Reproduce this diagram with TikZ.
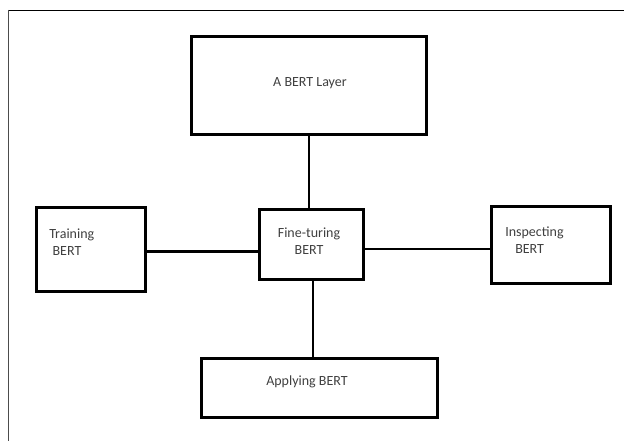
\documentclass[tikz,border=0pt]{standalone}
\usepackage{fontspec}
\setmainfont{Carlito}
\usepackage{tikz}
\usetikzlibrary{positioning}

\tikzset{
	blk/.style={draw=black, line width=2pt, inner sep=0pt},
	txt/.style={text=black!75, font=\fontsize{10.5}{12.8}\selectfont, inner sep=0pt}
}

\begin{document}
\begin{tikzpicture}[x=0.75pt, y=-0.75pt]
			\useasboundingbox (0,0) rectangle (624,441);
			\draw [line width=0.6pt] (8,10) -- (624,10);
			\draw [line width=0.5pt, color=black!70] (8,10) -- (8,441);
			% boxes
			\node [blk, minimum width=176.5pt, minimum height=73.5pt] (layer) at (309,85.5) {};
			\node [blk, minimum width=82pt, minimum height=63pt] (train) at (91,249.5) {};
			\node [blk, minimum width=78pt, minimum height=52.5pt] (fine) at (311.5,244.5) {};
			\node [blk, minimum width=89.5pt, minimum height=58pt] (insp) at (551,245) {};
			\node [blk, minimum width=177pt, minimum height=44.5pt] (apply) at (319.5,388) {};
			% texts
			\node [txt] (layertxt) at (310,83) {A BERT Layer};
			\node [txt, anchor=west, align=left] (traintxt) at (49,242.5) {Training\\\hspace*{2.5pt}BERT};
			\node [txt, align=center] (finetxt) at (309,241) {Fine-turing\\BERT};
			\node [txt, anchor=west, align=left] (insptxt) at (505,240) {Inspecting\\\hspace*{7.5pt}BERT};
			\node [txt] (applytxt) at (307,382) {Applying BERT};
			% connectors
			\draw [line width=2pt] (layer.south) -- (layer.south |- fine.north);
			\draw [line width=2pt] ([xshift=1pt]fine.south) -- ([xshift=1pt]fine.south |- apply.north);
			\draw [line width=2pt] ([yshift=-1.5pt]train.east) -- ([yshift=-1.5pt]train.east -| fine.west);
			\draw [line width=2pt] ([yshift=-3.4pt]fine.east) -- ([yshift=-3.4pt]fine.east -| insp.west);
		\end{tikzpicture}
\end{document}
